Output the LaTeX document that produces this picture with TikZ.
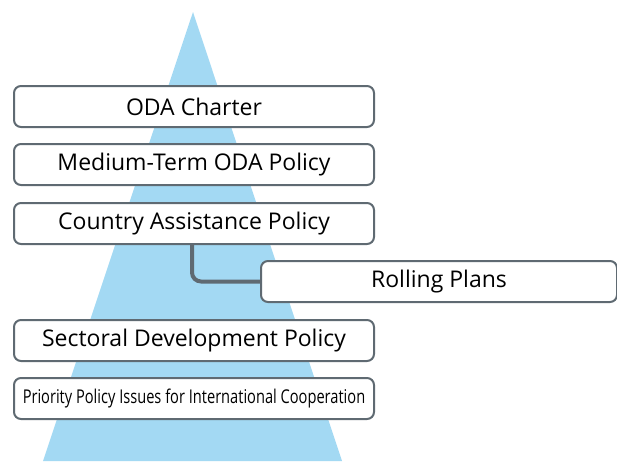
\documentclass[tikz,border=0pt]{standalone}
\usepackage{fontspec}
\setmainfont{Open Sans}
\begin{document}
\begin{tikzpicture}[x=1pt,y=-1pt,
  levelbox/.style={draw=boxgray, line width=2pt, rounded corners=7pt, fill=white,
    minimum height=41pt, anchor=north west, inner sep=0pt, font=\fontsize{23}{26}\selectfont},
  link/.style={draw=boxgray, line width=4pt, rounded corners=9pt}]
\definecolor{sky}{HTML}{A3D9F3}
\definecolor{boxgray}{HTML}{5F6A72}
\useasboundingbox (0,0) rectangle (617,461);
% background pyramid
\fill[sky] (193,12) -- (342,461) -- (43,461) -- cycle;
% policy levels
\node[levelbox, minimum width=360pt] (charter) at (13,85) {ODA Charter};
\node[levelbox, minimum width=360pt] (medium) at (13,143) {Medium-Term ODA Policy};
\node[levelbox, minimum width=360pt] (country) at (13,202) {Country Assistance Policy};
\node[levelbox, minimum width=356pt] (rolling) at (260,260) {Rolling Plans};
\node[levelbox, minimum width=360pt] (sector) at (13,319) {Sectoral Development Policy};
\node[levelbox, minimum width=360pt, font=\fontsize{19}{21}\selectfont] (priority) at (13,377)
  {\scalebox{0.77}[1]{Priority Policy Issues for International Cooperation}};
% link from country policy to rolling plans
\draw[link] (country.south -| 192,0) |- (rolling.west);
\end{tikzpicture}
\end{document}
